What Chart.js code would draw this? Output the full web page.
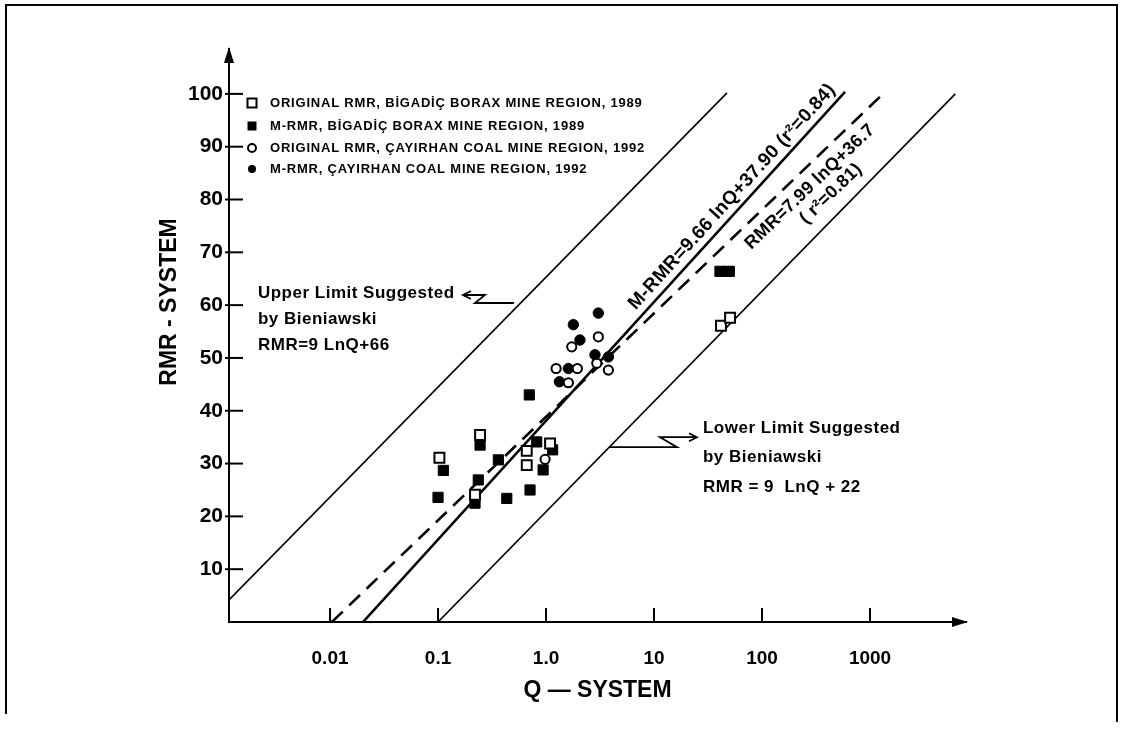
<!DOCTYPE html>
<html lang="en">
<head>
<meta charset="UTF-8">
<title>RMR vs Q-System</title>
<script src="https://cdn.jsdelivr.net/npm/chart.js"></script>
<style>
  html, body { margin: 0; padding: 0; background: #fff; }
  #wrap { width: 1123px; height: 735px; position: relative; }
</style>
</head>
<body>
<div id="wrap"><canvas id="rmrChart"></canvas></div>
<script>
// series names (legend)
const seriesNames = [
  'ORIGINAL RMR, BİGADİÇ BORAX MINE REGION, 1989',
  'M-RMR, BİGADİÇ BORAX MINE REGION, 1989',
  'ORIGINAL RMR, ÇAYIRHAN COAL MINE REGION, 1992',
  'M-RMR, ÇAYIRHAN COAL MINE REGION, 1992'
];

// points: Q value, RMR value
const origBigadicQ   = [0.103, 0.245, 0.22, 0.663, 0.663, 1.09, 41.7, 50.6];
const origBigadicRMR = [31.1, 35.4, 24.1, 32.4, 29.7, 33.8, 56.1, 57.6];

const mBigadicQ   = [0.70, 0.245, 0.112, 0.362, 0.236, 0.22, 0.100, 0.433, 0.711, 0.82, 1.15, 0.94, 40.8, 49.8];
const mBigadicRMR = [43.0, 33.5, 28.7, 30.7, 26.9, 22.5, 23.6, 23.4, 25.0, 34.1, 32.6, 28.8, 66.4, 66.4];

const origCayirhanQ   = [0.98, 1.73, 3.05, 2.95, 3.78, 1.24, 1.95, 1.61];
const origCayirhanRMR = [30.8, 52.1, 54.0, 49.0, 47.7, 48.0, 48.0, 45.3];

const mCayirhanQ   = [3.05, 1.79, 2.06, 2.84, 3.78, 1.61, 1.33];
const mCayirhanRMR = [58.5, 56.3, 53.4, 50.6, 50.2, 48.0, 45.5];

// straight lines (end points as drawn)
const upperLimitQ = [0.00116, 47.4];
const upperLimitRMR = [4.2, 100.2];
const mrmrFitQ = [0.0202, 587];
const mrmrFitRMR = [0, 100.4];
const rmrFitQ = [0.0104, 1380];
const rmrFitRMR = [0, 100.4];
const lowerLimitQ = [0.1, 6160];
const lowerLimitRMR = [0, 100];

// axes
const xMin = 0.00116, xMax = 7740;
const yMin = 0, yMax = 108.5;
const xTicks = [0.01, 0.1, 1, 10, 100, 1000];
const xTickLabels = ['0.01', '0.1', '1.0', '10', '100', '1000'];
const yTicks = [10, 20, 30, 40, 50, 60, 70, 80, 90, 100];

// notes on the chart
const yTitle = 'RMR - SYSTEM';
const upperNote = ['Upper Limit Suggested', 'by Bieniawski', 'RMR=9 LnQ+66'];
const lowerNote = ['Lower Limit Suggested', 'by Bieniawski', 'RMR = 9  LnQ + 22'];
const mrmrLabel = 'M-RMR=9.66 lnQ+37.90 (r²=0.84)';
const rmrLabel = ['RMR=7.99 lnQ+36.7', '( r²=0.81)'];

const FONT = '"Liberation Sans", Arial, sans-serif';

function pts(qs, rs) {
  return qs.map((q, i) => ({x: q, y: rs[i]}));
}

function lineSet(qs, rs, width, dash) {
  return {
    data: pts(qs, rs),
    showLine: true,
    pointRadius: 0,
    borderColor: '#000',
    borderWidth: width,
    borderDash: dash || [],
    fill: false
  };
}

// draws frame, arrows, inside ticks, legend and the notes
const figureExtras = {
  id: 'figureExtras',
  afterDraw(chart) {
    const {ctx, chartArea: a, scales: {x, y}} = chart;
    ctx.save();
    ctx.strokeStyle = '#000';
    ctx.fillStyle = '#000';
    ctx.lineCap = 'butt';

    // page frame
    ctx.lineWidth = 2;
    ctx.beginPath();
    ctx.moveTo(6, 714); ctx.lineTo(6, 5); ctx.lineTo(1117, 5); ctx.lineTo(1117, 722);
    ctx.stroke();

    // axis arrows
    ctx.beginPath();
    ctx.moveTo(a.left, a.top - 2);
    ctx.lineTo(a.left - 5, a.top + 14);
    ctx.lineTo(a.left + 5, a.top + 14);
    ctx.closePath();
    ctx.fill();
    ctx.beginPath();
    ctx.moveTo(a.right + 2, a.bottom);
    ctx.lineTo(a.right - 14, a.bottom - 5);
    ctx.lineTo(a.right - 14, a.bottom + 5);
    ctx.closePath();
    ctx.fill();

    // ticks pointing into the plot
    ctx.lineWidth = 2;
    yTicks.forEach(v => {
      const py = y.getPixelForValue(v);
      ctx.beginPath(); ctx.moveTo(a.left - 4, py); ctx.lineTo(a.left + 14, py); ctx.stroke();
    });
    xTicks.forEach(v => {
      const px = x.getPixelForValue(v);
      ctx.beginPath(); ctx.moveTo(px, a.bottom); ctx.lineTo(px, a.bottom - 14); ctx.stroke();
    });

    // y axis title, a bit above the middle as in the original
    ctx.save();
    ctx.font = 'bold 23px ' + FONT;
    ctx.textAlign = 'center';
    ctx.textBaseline = 'middle';
    ctx.translate(170, 302);
    ctx.rotate(-Math.PI / 2);
    ctx.fillText(yTitle, 0, 0);
    ctx.restore();

    // legend in upper left corner
    ctx.font = 'bold 13px ' + FONT;
    ctx.letterSpacing = '0.8px';
    ctx.textAlign = 'left';
    ctx.textBaseline = 'middle';
    const rows = [a.top + 54, a.top + 77, a.top + 99, a.top + 120];
    const styles = [['rect', false], ['rect', true], ['circle', false], ['circle', true]];
    seriesNames.forEach((name, i) => {
      const mx = a.left + 23, my = rows[i];
      ctx.lineWidth = 2;
      const [shape, filled] = styles[i];
      ctx.beginPath();
      if (shape === 'rect') ctx.rect(mx - 4.5, my - 4.5, 9, 9);
      else ctx.arc(mx, my, 4, 0, Math.PI * 2);
      if (filled) ctx.fill(); else ctx.stroke();
      ctx.fillText(name, a.left + 41, my);
    });

    // upper limit note with arrow
    ctx.font = 'bold 17px ' + FONT;
    ctx.letterSpacing = '0.5px';
    const ux = x.getPixelForValue(0.00215), uy = y.getPixelForValue(62.3);
    upperNote.forEach((t, i) => ctx.fillText(t, ux, uy + i * 26));
    ctx.lineWidth = 1.8;
    ctx.beginPath();
    ctx.moveTo(ux + 213, uy - 2); ctx.lineTo(ux + 205, uy + 2); ctx.lineTo(ux + 213, uy + 6);
    ctx.moveTo(ux + 205, uy + 2); ctx.lineTo(ux + 227, uy + 2);
    ctx.lineTo(ux + 217, uy + 10); ctx.lineTo(ux + 256, uy + 10);
    ctx.stroke();

    // lower limit note with arrow
    const lx = x.getPixelForValue(28.4), ly = y.getPixelForValue(36.7);
    lowerNote.forEach((t, i) => ctx.fillText(t, lx, ly + i * 29.5));
    ctx.beginPath();
    ctx.moveTo(lx - 94, ly + 19); ctx.lineTo(lx - 26, ly + 19);
    ctx.lineTo(lx - 43, ly + 9); ctx.lineTo(lx - 6, ly + 9);
    ctx.moveTo(lx - 14, ly + 5); ctx.lineTo(lx - 6, ly + 9); ctx.lineTo(lx - 14, ly + 13);
    ctx.stroke();

    // rotated equation labels
    function angleOf(qs, rs) {
      const x1 = x.getPixelForValue(qs[0]), y1 = y.getPixelForValue(rs[0]);
      const x2 = x.getPixelForValue(qs[1]), y2 = y.getPixelForValue(rs[1]);
      return Math.atan2(y2 - y1, x2 - x1);
    }
    function rotText(t, q, r, ang) {
      ctx.save();
      ctx.translate(x.getPixelForValue(q), y.getPixelForValue(r));
      ctx.rotate(ang);
      ctx.textAlign = 'center';
      ctx.fillText(t, 0, 0);
      ctx.restore();
    }
    ctx.font = 'bold 19px ' + FONT;
    ctx.letterSpacing = '0.3px';
    rotText(mrmrLabel, 52.7, 80.5, angleOf(mrmrFitQ, mrmrFitRMR));
    ctx.font = 'bold 18px ' + FONT;
    const dAng = angleOf(rmrFitQ, rmrFitRMR);
    rotText(rmrLabel[0], 278, 82.4, dAng);
    rotText(rmrLabel[1], 435, 81.1, dAng);

    ctx.restore();
  }
};

const ctx = document.getElementById('rmrChart').getContext('2d');
new Chart(ctx, {
  type: 'scatter',
  data: {
    datasets: [
      {label: seriesNames[0], data: pts(origBigadicQ, origBigadicRMR), pointStyle: 'rect', pointRadius: 7,
        backgroundColor: '#fff', borderColor: '#000', borderWidth: 2},
      {label: seriesNames[1], data: pts(mBigadicQ, mBigadicRMR), pointStyle: 'rect', pointRadius: 7.2,
        backgroundColor: '#000', borderColor: '#000', borderWidth: 1},
      {label: seriesNames[2], data: pts(origCayirhanQ, origCayirhanRMR), pointStyle: 'circle', pointRadius: 4.6,
        backgroundColor: '#fff', borderColor: '#000', borderWidth: 2},
      {label: seriesNames[3], data: pts(mCayirhanQ, mCayirhanRMR), pointStyle: 'circle', pointRadius: 5.2,
        backgroundColor: '#000', borderColor: '#000', borderWidth: 1},
      lineSet(upperLimitQ, upperLimitRMR, 1.6),
      lineSet(mrmrFitQ, mrmrFitRMR, 2.6),
      lineSet(rmrFitQ, rmrFitRMR, 2.6, [15, 9]),
      lineSet(lowerLimitQ, lowerLimitRMR, 1.6)
    ]
  },
  options: {
    responsive: true,
    maintainAspectRatio: false,
    animation: false,
    layout: {padding: {left: 0, top: 49, right: 157, bottom: 0}},
    plugins: {legend: {display: false}, tooltip: {enabled: false}},
    scales: {
      x: {
        type: 'logarithmic',
        min: xMin, max: xMax,
        afterBuildTicks: s => { s.ticks = xTicks.map(v => ({value: v})); },
        afterFit: s => { s.height = 113; },
        grid: {display: false, drawTicks: false},
        border: {display: true, color: '#000', width: 2},
        ticks: {
          autoSkip: false, maxRotation: 0, padding: 25, color: '#000',
          font: {family: FONT, size: 19, weight: 'bold'},
          callback: v => { const i = xTicks.indexOf(v); return i >= 0 ? xTickLabels[i] : ''; }
        },
        title: {display: true, text: 'Q — SYSTEM', color: '#000',
          font: {family: FONT, size: 23, weight: 'bold'}, padding: {top: 0, bottom: 31}}
      },
      y: {
        type: 'linear',
        min: yMin, max: yMax,
        afterBuildTicks: s => { s.ticks = yTicks.map(v => ({value: v})); },
        afterFit: s => { s.width = 229; },
        grid: {display: false, drawTicks: false},
        border: {display: true, color: '#000', width: 2},
        ticks: {
          padding: 6, color: '#000',
          font: {family: FONT, size: 21, weight: 'bold'},
          callback: v => String(v)
        },
        title: {display: false}
      }
    }
  },
  plugins: [figureExtras]
});
</script>
</body>
</html>
